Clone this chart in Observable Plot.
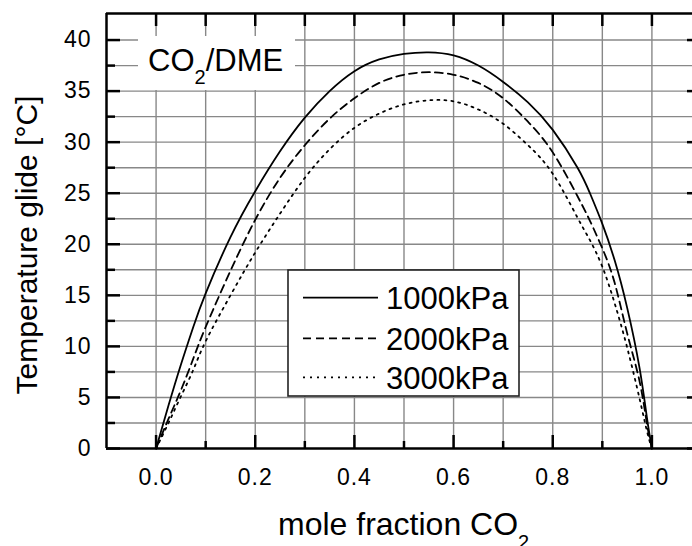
<!DOCTYPE html>
<html><head><meta charset="utf-8">
<script src="https://cdn.jsdelivr.net/npm/d3@7"></script>
<script src="https://cdn.jsdelivr.net/npm/@observablehq/plot@0.6"></script>
<style>
html,body{margin:0;padding:0;background:#fff;overflow:hidden;}
#chart{width:692px;height:546px;overflow:hidden;}
</style></head><body><div id="chart"></div>
<script>
// ---- data ----
const moleFraction = [0,0.025,0.05,0.075,0.1,0.15,0.2,0.25,0.3,0.35,0.4,0.45,0.5,0.55,0.6,0.65,0.7,0.75,0.8,0.85,0.875,0.9,0.925,0.95,0.975,0.99,1];
const glide1000 = [0,4.2,8.2,11.9,15.2,20.7,25.2,29.1,32.4,35.0,36.95,38.1,38.65,38.8,38.5,37.5,35.9,33.9,31.2,27.5,25.0,22.0,18.4,13.8,7.9,3.0,0];
const glide2000 = [0,2.9,5.7,8.8,11.9,17.4,22.4,26.5,29.7,32.3,34.3,35.8,36.6,36.85,36.6,35.8,34.3,32.0,29.0,24.7,22.3,19.6,16.2,11.3,6.6,2.4,0];
const glide3000 = [0,2.5,5.1,7.7,10.5,15.0,19.2,23.0,26.5,29.3,31.4,32.8,33.7,34.1,34.0,33.2,31.8,29.7,26.9,22.6,20.4,17.8,14.2,9.9,4.9,1.7,0];
const seriesNames = ["1000kPa","2000kPa","3000kPa"];

const xMajorTicks = [0.0,0.2,0.4,0.6,0.8,1.0];
const xMinorTicks = [0.1,0.3,0.5,0.7,0.9];
const yMajorTicks = [0,5,10,15,20,25,30,35,40];
const yMinorTicks = [2.5,7.5,12.5,17.5,22.5,27.5,32.5,37.5];
const xGridLines = [0.0,0.1,0.2,0.3,0.4,0.5,0.6,0.7,0.8,0.9,1.0];
const yGridLines = [2.5,5,7.5,10,12.5,15,17.5,20,22.5,25,27.5,30,32.5,35,37.5,40];

const xTitle = "mole fraction CO";
const yTitle = "Temperature glide [°C]";
const boxLabel = ["CO", "2", "/DME"];

// ---- layout ----
const W = 710, H = 546, mL = 106, mR = 9, mT = 13, mB = 98;
const fw = W - mL - mR, fh = H - mT - mB;

const mk = ys => moleFraction.map((x, i) => ({x, y: ys[i]}));
const s1 = mk(glide1000), s2 = mk(glide2000), s3 = mk(glide3000);

const gridStyle = {stroke: "#888888", strokeWidth: 1.4};
const tickStyle = {stroke: "black", strokeWidth: 2.5};
const ff = "'Liberation Sans', Arial, sans-serif";

const plot = Plot.plot({
  width: W, height: H,
  marginLeft: mL, marginRight: mR, marginTop: mT, marginBottom: mB,
  x: {domain: [-0.1, 1.1]},
  y: {domain: [0, 42.6]},
  style: {maxWidth: "none", fontFamily: ff, fontSize: "23px", letterSpacing: "1px", background: "white", color: "black"},
  marks: [
    Plot.ruleX(xGridLines, {x: d => d, ...gridStyle}),
    Plot.ruleY(yGridLines, {y: d => d, ...gridStyle}),
    // inward ticks
    Plot.ruleX(xMajorTicks, {x: d => d, insetTop: fh - 13, ...tickStyle}),
    Plot.ruleX(xMinorTicks, {x: d => d, insetTop: fh - 7, ...tickStyle}),
    Plot.ruleX(xGridLines, {x: d => d, insetBottom: fh - 13, ...tickStyle}),
    Plot.ruleY(yMajorTicks, {y: d => d, insetRight: fw - 14, ...tickStyle}),
    Plot.ruleY(yMinorTicks, {y: d => d, insetRight: fw - 9, ...tickStyle}),
    Plot.ruleY(yMajorTicks, {y: d => d, insetLeft: fw - 14, ...tickStyle}),
    Plot.ruleY(yMinorTicks, {y: d => d, insetLeft: fw - 9, ...tickStyle}),
    // frame
    Plot.ruleX([-0.1, 1.1], {x: d => d, stroke: "black", strokeWidth: 2.5}),
    Plot.ruleY([0, 42.6], {y: d => d, stroke: "black", strokeWidth: 2.5}),
    // curves
    Plot.line(s1, {x: "x", y: "y", curve: "natural", stroke: "black", strokeWidth: 1.8}),
    Plot.line(s2, {x: "x", y: "y", curve: "natural", stroke: "black", strokeWidth: 1.8, strokeDasharray: "8,5"}),
    Plot.line(s3, {x: "x", y: "y", curve: "natural", stroke: "black", strokeWidth: 1.8, strokeDasharray: "2,5"}),
    // axes labels
    Plot.axisX(xMajorTicks, {tickSize: 0, tickPadding: 20, tickFormat: d3.format(".1f"), label: null, fontSize: 23, fontFamily: ff}),
    Plot.axisY(yMajorTicks, {tickSize: 0, tickPadding: 15, tickFormat: d3.format("d"), label: null, fontSize: 23, fontFamily: ff})
  ]
});
document.getElementById("chart").appendChild(plot);

const svg = d3.select(plot);

// CO2/DME label box
const g1 = svg.append("g").attr("text-anchor", "start");
g1.append("rect").attr("x", 138).attr("y", 36).attr("width", 157).attr("height", 54).attr("fill", "white");
const t1 = g1.append("text").attr("x", 148).attr("y", 71).attr("font-family", ff).attr("font-size", 31).attr("letter-spacing", 0).attr("fill", "black");
t1.append("tspan").text(boxLabel[0]);
t1.append("tspan").attr("dy", 13).attr("font-size", 20).text(boxLabel[1]);
t1.append("tspan").attr("dy", -13).text(boxLabel[2]);

// legend
const lg = svg.append("g").attr("text-anchor", "start");
lg.append("rect").attr("x", 288).attr("y", 270).attr("width", 231).attr("height", 126)
  .attr("fill", "white").attr("stroke", "#222").attr("stroke-width", 1.6);
const dashes = [null, "8,5", "2,5"];
const rowY = [297.7, 338.3, 377.3];
seriesNames.forEach((name, i) => {
  const l = lg.append("line").attr("x1", 303).attr("x2", 378).attr("y1", rowY[i]).attr("y2", rowY[i])
    .attr("stroke", "black").attr("stroke-width", 1.8);
  if (dashes[i]) l.attr("stroke-dasharray", dashes[i]);
  lg.append("text").attr("x", 386).attr("y", rowY[i] + 11.5).attr("font-family", ff).attr("font-size", 31)
    .attr("letter-spacing", 0).attr("fill", "black").text(name);
});

// axis titles
const xt = svg.append("text").attr("text-anchor", "start").attr("x", 278).attr("y", 535).attr("font-family", ff).attr("font-size", 32)
  .attr("letter-spacing", 0).attr("fill", "black");
xt.append("tspan").text(xTitle);
xt.append("tspan").attr("dy", 14).attr("font-size", 20).text("2");

svg.append("text").attr("transform", "translate(37,245) rotate(-90)").attr("text-anchor", "middle")
  .attr("font-family", ff).attr("font-size", 30).attr("letter-spacing", 0).attr("fill", "black").text(yTitle);
</script>
</body></html>
